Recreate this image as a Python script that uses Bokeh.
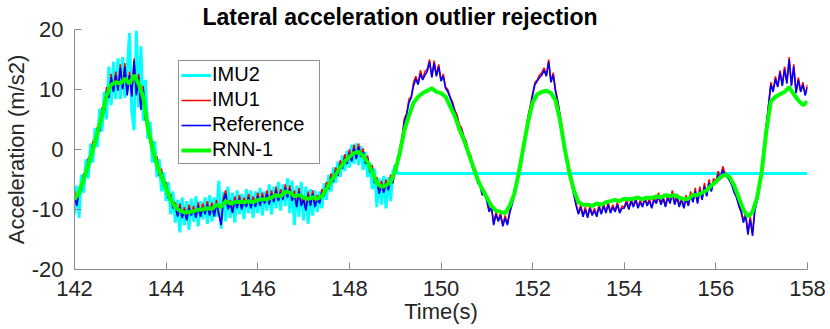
from bokeh.plotting import figure
from bokeh.models import Range1d, FixedTicker, Legend, LegendItem
from bokeh.embed import file_html
from bokeh.resources import INLINE

# ---------------- data ----------------
title_text = "Lateral acceleration outlier rejection"
x_label = "Time(s)"
y_label = "Acceleration (m/s2)"
x_ticks = [142, 144, 146, 148, 150, 152, 154, 156, 158]
y_ticks = [-20, -10, 0, 10, 20]
y_tick_labels = ["-20", "-10", "0", "10", "20"]
series_names = ["IMU2", "IMU1", "Reference", "RNN-1"]

# sample instants: 0.05 s for the sensor traces, 0.1 s for the RNN output
time = [round(142 + 0.05 * i, 2) for i in range(321)]
time_rnn = [round(142 + 0.1 * i, 1) for i in range(161)]

reference = [
    -7.6, -9.4, -7.0, -6.8, -4.6, -4.4, -2.0, -1.9, 0.8, 0.6, 3.4, 3.0, 6.4, 6.2, 9.8, 8.6, 12.0, 9.6, 12.4, 9.8,
    13.6, 10.0, 13.8, 9.0, 12.4, 8.8, 14.8, 9.0, 12.0, 6.6, 10.0, 4.8, 4.2, 1.2, 0.8, -2.0, -1.8, -4.4, -3.8, -6.2,
    -6.0, -8.2, -8.0, -9.8, -9.4, -11.2, -9.6, -11.4, -10.2, -11.8, -9.8, -11.0, -10.0, -11.4, -9.4, -11.2, -9.6, -10.8, -9.2, -11.0,
    -9.4, -11.2, -9.0, -10.8, -12.6, -8.6, -7.4, -10.0, -9.0, -10.6, -8.4, -9.8, -8.2, -10.0, -8.6, -9.6, -8.0, -9.8, -8.4, -9.6,
    -7.8, -9.4, -7.8, -9.0, -7.4, -9.2, -7.4, -8.8, -6.8, -8.6, -7.2, -8.4, -6.4, -8.0, -6.6, -8.6, -7.4, -9.6, -7.0, -9.4,
    -8.4, -10.2, -7.6, -9.4, -7.4, -9.6, -8.2, -9.0, -7.2, -7.8, -6.0, -6.6, -4.6, -5.4, -3.6, -4.4, -2.4, -3.2, -1.4, -2.4,
    -0.6, -2.0, 0.2, -1.6, 0.4, -1.2, -0.4, -2.4, -1.6, -3.8, -3.2, -5.6, -5.2, -7.4, -5.8, -7.2, -5.6, -6.8, -4.8, -5.6,
    -3.2, -2.6, -0.4, 1.8, 4.6, 5.8, 7.8, 8.6, 10.6, 11.8, 10.8, 12.6, 11.6, 12.4, 13.0, 14.6, 12.0, 14.4, 12.2, 13.8,
    11.4, 12.2, 10.2, 9.6, 8.6, 7.6, 6.2, 5.4, 3.8, 3.2, 1.8, 1.0, -0.8, -1.4, -3.4, -3.6, -5.6, -6.0, -7.6, -7.2,
    -8.6, -10.4, -9.6, -12.6, -10.8, -12.0, -11.0, -12.8, -11.4, -12.6, -10.6, -9.2, -7.8, -6.0, -3.6, -1.8, 0.8, 2.6, 5.2, 7.0,
    9.0, 10.8, 11.4, 12.0, 12.4, 13.2, 12.2, 14.6, 11.2, 12.4, 9.6, 7.8, 5.4, 3.0, 0.2, -1.6, -3.6, -5.8, -7.6, -9.4,
    -10.8, -9.6, -11.2, -10.0, -11.4, -9.8, -11.0, -10.2, -11.2, -9.6, -10.8, -9.4, -10.6, -9.2, -10.6, -9.6, -10.4, -9.2, -10.6, -9.8,
    -9.8, -8.8, -10.0, -8.6, -9.6, -8.4, -9.8, -8.8, -9.6, -8.2, -9.4, -8.6, -9.8, -8.4, -9.0, -7.8, -9.2, -8.2, -9.6, -8.0,
    -9.0, -7.4, -9.2, -8.0, -9.6, -8.4, -9.8, -8.2, -9.4, -7.6, -8.8, -7.0, -9.0, -6.8, -8.4, -6.2, -7.8, -5.6, -7.0, -5.4,
    -5.6, -4.2, -5.0, -3.4, -4.4, -4.6, -5.2, -6.0, -7.2, -8.0, -9.4, -10.4, -12.2, -11.0, -14.2, -11.6, -14.4, -10.2, -8.6, -6.6,
    -3.4, 0.2, 3.8, 7.2, 10.8, 9.6, 11.8, 10.4, 12.8, 10.6, 13.4, 11.0, 15.0, 10.6, 13.8, 9.4, 11.6, 9.6, 10.8, 9.0,
    10.4,
]

imu1 = [
    -7.0, -9.2, -6.6, -6.4, -4.0, -4.2, -1.4, -1.6, 1.4, 0.8, 3.8, 3.4, 7.0, 6.4, 10.4, 8.8, 12.6, 9.8, 13.0, 10.2,
    14.2, 10.2, 14.4, 9.2, 13.0, 9.0, 15.2, 9.4, 12.6, 6.8, 10.6, 5.0, 4.8, 1.4, 1.4, -1.8, -1.2, -4.2, -3.2, -6.0,
    -5.4, -8.0, -7.4, -9.6, -8.8, -11.0, -9.0, -11.2, -9.6, -11.6, -9.2, -10.8, -9.4, -11.2, -8.8, -11.0, -9.0, -10.6, -8.6, -10.8,
    -8.8, -11.0, -8.4, -10.6, -12.4, -8.0, -6.8, -9.8, -8.4, -10.4, -7.8, -9.6, -7.6, -9.8, -8.0, -9.4, -7.4, -9.6, -7.8, -9.4,
    -7.2, -9.2, -7.2, -8.8, -6.8, -9.0, -6.8, -8.6, -6.2, -8.4, -6.6, -8.2, -5.8, -7.8, -6.0, -8.4, -6.8, -9.4, -6.4, -9.2,
    -7.8, -10.0, -7.0, -9.2, -6.8, -9.4, -7.6, -8.8, -6.6, -7.4, -5.4, -6.2, -4.0, -5.0, -3.0, -4.0, -1.8, -2.8, -0.8, -2.0,
    0.0, -1.8, 0.8, -1.4, 1.0, -1.0, 0.2, -2.2, -1.0, -3.6, -2.6, -5.4, -4.6, -7.2, -5.2, -7.0, -5.0, -6.6, -4.2, -5.4,
    -2.6, -2.4, 0.2, 2.2, 5.2, 6.0, 8.4, 8.8, 11.2, 12.2, 11.0, 13.2, 11.8, 13.0, 13.4, 15.0, 12.2, 14.8, 12.4, 14.2,
    11.6, 12.6, 10.4, 10.0, 8.8, 8.0, 6.6, 5.8, 4.2, 3.6, 2.2, 1.4, -0.4, -1.0, -3.0, -3.2, -5.2, -5.6, -7.2, -6.8,
    -8.2, -10.2, -9.0, -12.4, -10.4, -11.8, -10.6, -12.6, -11.0, -12.4, -10.2, -8.8, -7.4, -5.6, -3.2, -1.4, 1.2, 3.0, 5.6, 7.4,
    9.4, 11.2, 11.6, 12.4, 12.8, 13.6, 12.4, 15.0, 11.4, 12.8, 10.0, 8.2, 5.8, 3.4, 0.6, -1.2, -3.2, -5.4, -7.2, -9.0,
    -10.6, -9.2, -11.0, -9.6, -11.2, -9.4, -10.8, -9.8, -11.0, -9.2, -10.6, -9.0, -10.4, -8.8, -10.4, -9.2, -10.2, -8.8, -10.4, -9.4,
    -9.6, -8.4, -9.8, -8.2, -9.4, -8.0, -9.6, -8.4, -9.4, -7.8, -9.2, -8.2, -9.6, -8.0, -8.8, -7.2, -9.0, -7.8, -9.4, -7.4,
    -8.8, -6.8, -9.0, -7.4, -9.4, -7.8, -9.6, -7.6, -9.2, -7.0, -8.6, -6.4, -8.8, -6.2, -8.2, -5.6, -7.6, -5.0, -6.8, -4.8,
    -5.4, -3.6, -4.8, -2.8, -4.0, -4.2, -4.8, -5.6, -6.8, -7.6, -9.0, -10.0, -11.8, -10.6, -13.8, -11.2, -14.0, -9.8, -8.2, -6.2,
    -3.0, 0.6, 4.2, 7.6, 11.2, 9.8, 12.2, 10.6, 13.2, 10.8, 13.8, 11.2, 15.4, 10.8, 14.2, 9.6, 12.0, 9.8, 11.2, 9.2,
    10.8,
]

# IMU2: noisy until ~149 s, then held at a constant value
imu2_noisy = [
    -10.8, -6.0, -11.4, -4.2, -7.2, -1.6, -4.8, 1.0, -2.2, 3.6, 0.4, 6.8, 3.0, 9.6, 5.0, 13.8, 7.4, 14.6, 8.4, 15.2,
    8.4, 15.4, 8.6, 13.2, 19.4, 6.6, 3.2, 19.8, 7.0, 17.2, 4.8, 11.6, 1.8, 4.6, -2.2, 1.4, -4.6, -1.6, -7.0, -3.8,
    -8.6, -5.4, -10.8, -7.0, -12.2, -8.4, -13.8, -8.0, -12.6, -8.6, -13.4, -8.2, -12.0, -7.8, -12.8, -8.6, -11.6, -8.0, -12.4, -7.6,
    -12.0, -8.0, -11.2, -5.2, -13.2, -7.0, -12.0, -6.2, -11.4, -7.2, -12.2, -6.8, -10.8, -7.4, -11.6, -6.6, -10.6, -6.8, -11.4, -7.0,
    -10.6, -6.4, -11.0, -7.0, -10.2, -5.8, -10.8, -6.2, -9.8, -5.4, -10.2, -5.8, -9.4, -4.8, -10.6, -5.2, -12.6, -6.0, -11.2, -5.4,
    -11.8, -6.2, -12.4, -6.6, -11.0, -6.8, -10.4, -7.0, -9.8, -5.6, -8.4, -4.2, -7.0, -3.0, -5.6, -2.0, -4.6, -1.0, -3.6, -0.2,
    -3.0, 0.8, -2.4, 1.0, -2.6, 0.6, -3.4, -0.4, -4.6, -2.2, -6.6, -3.2, -9.6, -4.8, -9.2, -4.4, -9.8, -4.6, -8.6, -3.8, -2.6, -4.0,
]
imu2_hold_value = -4.0
imu2_hold_end = 158.0
imu2_time = time[:len(imu2_noisy)] + [imu2_hold_end]
imu2 = imu2_noisy + [imu2_hold_value]

rnn1 = [
    -8.3, -7.2, -5.0, -2.6, 0.0, 2.8, 5.6, 9.0, 10.8, 11.2,
    11.0, 11.8, 11.0, 12.4, 11.0, 8.7, 3.8, 0.2, -2.6, -4.5,
    -6.5, -8.4, -9.6, -10.2, -10.5, -10.4, -10.3, -10.0, -10.0, -9.8,
    -9.9, -9.2, -9.6, -8.6, -9.0, -8.8, -8.7, -8.8, -8.6, -8.8,
    -8.4, -8.3, -8.3, -8.0, -7.6, -7.8, -7.0, -7.2, -7.8, -7.6,
    -8.0, -8.2, -8.0, -8.2, -7.8, -6.6, -5.2, -4.2, -3.0, -2.0,
    -1.2, -0.6, -0.4, -1.0, -2.2, -3.8, -5.6, -6.2, -6.0, -5.4,
    -3.6, -0.6, 3.2, 5.6, 7.8, 8.8, 9.4, 9.8, 10.2, 9.6,
    9.4, 8.8, 7.2, 5.6, 3.4, 1.6, -0.6, -2.8, -5.0, -6.6,
    -8.0, -9.4, -10.2, -10.4, -10.6, -9.4, -7.4, -3.8, 0.4, 4.6,
    7.8, 9.2, 9.6, 9.8, 9.4, 8.2, 4.8, 0.2, -3.8, -6.8,
    -8.8, -9.2, -9.2, -9.4, -9.0, -9.2, -8.8, -8.6, -8.4, -8.6,
    -8.2, -8.3, -8.2, -8.0, -8.3, -8.0, -8.1, -7.8, -8.0, -7.6,
    -7.8, -7.6, -8.0, -8.3, -8.2, -7.6, -7.6, -7.2, -6.8, -6.0,
    -5.4, -4.6, -4.2, -4.6, -6.0, -8.0, -10.0, -11.2, -10.4, -8.0,
    -3.8, 3.0, 8.0, 8.8, 9.2, 9.6, 10.4, 9.2, 8.2, 7.4,
    8.0,
]

# ---------------- figure ----------------
FONT = "Liberation Sans"
TEXT_GRAY = "#262626"
AXIS_GRAY = "#8a8a8a"

p = figure(width=830, height=329, output_backend="svg", toolbar_location=None,
           x_range=Range1d(142, 158), y_range=Range1d(-20, 20),
           min_border_left=73, min_border_right=23, min_border_top=29,
           min_border_bottom=60)
p.outline_line_color = None
p.xgrid.visible = False
p.ygrid.visible = False
p.background_fill_color = "white"
p.border_fill_color = "white"

p.title.text = title_text
p.title.align = "left"
p.title.offset = 128
p.title.standoff = 0
p.title.text_font = FONT
p.title.text_font_size = "23px"
p.title.text_font_style = "bold"
p.title.text_color = "black"

r_imu2 = p.line(imu2_time, imu2, line_color="#00FFFF", line_width=3)
r_imu1 = p.line(time, imu1, line_color="#FF0000", line_width=1.5)
r_ref = p.line(time, reference, line_color="#0000FF", line_width=1.6)
r_rnn = p.line(time_rnn, rnn1, line_color="#00FF00", line_width=4)

for ax, ticks in ((p.xaxis, x_ticks), (p.yaxis, y_ticks)):
    ax.ticker = FixedTicker(ticks=ticks)
    ax.major_tick_in = 7
    ax.major_tick_out = 0
    ax.minor_tick_line_color = None
    ax.axis_line_color = AXIS_GRAY
    ax.major_tick_line_color = AXIS_GRAY
    ax.major_label_text_font = FONT
    ax.major_label_text_font_size = "22px"
    ax.major_label_text_color = TEXT_GRAY
    ax.axis_label_text_font = FONT
    ax.axis_label_text_font_size = "22px"
    ax.axis_label_text_font_style = "normal"
    ax.axis_label_text_color = TEXT_GRAY

p.yaxis.major_label_overrides = dict(zip(y_ticks, y_tick_labels))
p.xaxis.axis_label = x_label
p.yaxis.axis_label = y_label
p.xaxis.major_label_standoff = 11
p.xaxis.axis_label_standoff = 0
p.yaxis.major_label_standoff = 11
p.yaxis.axis_label_standoff = 0

legend = Legend(items=[LegendItem(label=series_names[0], renderers=[r_imu2]),
                       LegendItem(label=series_names[1], renderers=[r_imu1]),
                       LegendItem(label=series_names[2], renderers=[r_ref]),
                       LegendItem(label=series_names[3], renderers=[r_rnn])],
                location=(104, 105), margin=0, padding=2, spacing=2,
                glyph_width=30, glyph_height=20, label_standoff=1,
                label_width=105, label_height=20,
                label_text_font=FONT, label_text_font_size="20px",
                label_text_color="black",
                border_line_color=TEXT_GRAY, border_line_width=1,
                background_fill_alpha=1.0)
p.add_layout(legend, "center")

open("out.html", "w").write(file_html(p, INLINE))
